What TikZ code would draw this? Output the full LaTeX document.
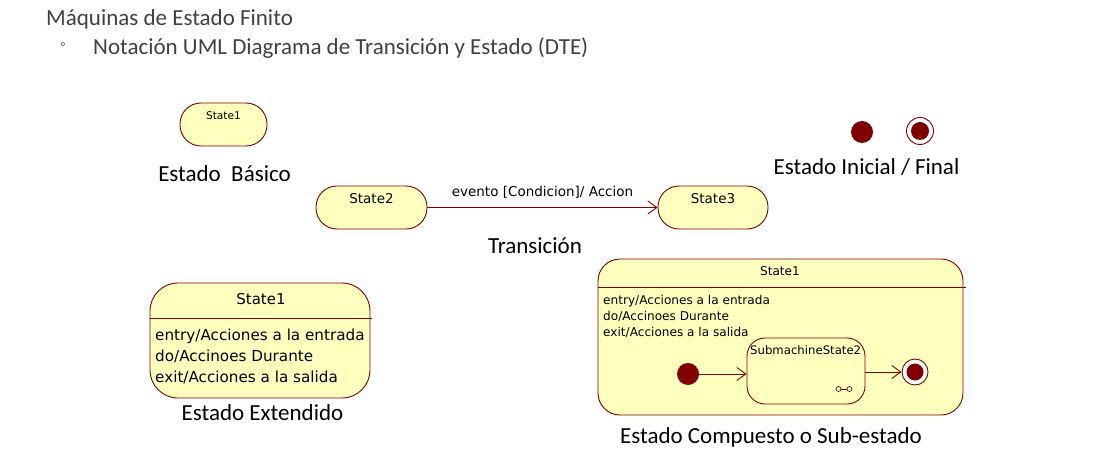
\documentclass[tikz,border=0pt]{standalone}
\usepackage{fontspec}
\setmainfont{Carlito}
\newfontfamily\umlfont{DejaVu Sans}
\usetikzlibrary{arrows.meta}
\definecolor{stfill}{RGB}{255,255,190}
\definecolor{stline}{RGB}{128,0,0}
\tikzset{
  stbox/.style={draw=stline, fill=stfill, line width=0.9pt, inner sep=0pt},
  sttext/.style={font=\umlfont\fontsize{10.6}{12}\selectfont, inner sep=0pt},
  heading/.style={font=\fontsize{23}{26}\selectfont, inner sep=0pt},
  trans/.style={draw=stline, line width=0.9pt, -{Straight Barb[length=9pt,width=13pt,line width=0.9pt]}},
  initst/.style={circle, fill=stline, inner sep=0pt, minimum size=22pt},
  finalout/.style={circle, draw=stline, fill=white, line width=0.9pt, inner sep=0pt, minimum size=27pt},
  finalin/.style={circle, fill=stline, inner sep=0pt, minimum size=18pt},
}
\begin{document}
\begin{tikzpicture}[x=1pt,y=-1pt]
\useasboundingbox (0,0) rectangle (1102,454);
% titles
\node[anchor=west, font=\fontsize{23}{26}\selectfont, text=black!75, inner sep=0pt] (title) at (46,19) {Máquinas de Estado Finito};
\node[anchor=center, font=\fontsize{15}{16}\selectfont, text=black!60, inner sep=0pt] (bullet) at (63,46) {◦};
\node[anchor=west, font=\fontsize{23}{26}\selectfont, text=black!75, inner sep=0pt] (sub) at (93,48) {Notación UML Diagrama de Transición y Estado (DTE)};

% basic state
\node[stbox, rounded corners=21pt, minimum width=87pt, minimum height=43pt] (s1) at (223.5,124.5) {};
\node[sttext, anchor=north] (s1t) at ([yshift=-9pt]s1.north) {State1};
\node[heading] (lbasic) at (224.5,174) {Estado\ \ Básico};

% transition
\node[stbox, rounded corners=21pt, minimum width=111pt, minimum height=43pt] (s2) at (371.5,207.5) {};
\node[sttext, font=\umlfont\fontsize{13.5}{14}\selectfont, anchor=north] (s2t) at ([yshift=-8pt]s2.north) {State2};
\node[stbox, rounded corners=21pt, minimum width=110pt, minimum height=43pt] (s3) at (713,207.5) {};
\node[sttext, font=\umlfont\fontsize{13.5}{14}\selectfont, anchor=north] (s3t) at ([yshift=-8pt]s3.north) {State3};
\draw[trans] (s2.east) -- node[above=9pt, sttext, font=\umlfont\fontsize{13.5}{14}\selectfont] (tlab) {evento [Condicion]/ Accion} (s3.west);
\node[heading] (ltrans) at (535,246) {Transición};

% initial / final
\node[initst] (ini) at (862,132) {};
\node[finalout] (fin) at (920,131) {};
\node[finalin] (fini) at (fin.center) {};
\node[heading] (linifin) at (866.5,167) {Estado Inicial / Final};

% extended state
\node[stbox, rounded corners=28pt, minimum width=220pt, minimum height=115pt] (ext) at (260,340.5) {};
\draw[stline, line width=0.9pt] (ext.west |- 0,318) -- ([xshift=2pt]ext.east |- 0,318);
\node[sttext, font=\umlfont\fontsize{15}{16}\selectfont] (extt) at (261,299) {State1};
\node[sttext, font=\umlfont\fontsize{15.2}{21}\selectfont, anchor=base west, align=left] (extb) at (155,382) {entry/Acciones a la entrada\\do/Accinoes Durante\\exit/Acciones a la salida};
\node[heading] (lext) at (262.5,413) {Estado Extendido};

% composite state
\node[stbox, rounded corners=22pt, minimum width=365pt, minimum height=156pt] (comp) at (780.5,337) {};
\draw[stline, line width=0.9pt] (comp.west |- 0,287) -- ([xshift=3pt]comp.east |- 0,287);
\node[sttext, font=\umlfont\fontsize{12.1}{13}\selectfont] (compt) at (780,271) {State1};
\node[sttext, font=\umlfont\fontsize{12.1}{16}\selectfont, anchor=base west, align=left] (compb) at (603,336) {entry/Acciones a la entrada\\do/Accinoes Durante\\exit/Acciones a la salida};
\node[stbox, rounded corners=18pt, minimum width=118pt, minimum height=66pt] (sub2) at (806,371) {};
\node[sttext, font=\umlfont\fontsize{11.7}{12}\selectfont, anchor=north west] (sub2t) at (750,345) {SubmachineState2};
\node[draw=stline, circle, line width=0.7pt, minimum size=5pt, inner sep=0pt] (ic1) at (838.5,389) {};
\node[draw=stline, circle, line width=0.7pt, minimum size=5pt, inner sep=0pt] (ic2) at (849.5,389) {};
\draw[stline, line width=0.7pt] (ic1) -- (ic2);
\node[initst] (cini) at (688,374) {};
\node[finalout, minimum size=26pt] (cfin) at (915,372) {};
\node[finalin, minimum size=17pt] (cfini) at (cfin.center) {};
\draw[trans] (cini.east) -- (sub2.west |- cini.east);
\draw[trans] (sub2.east |- cfin.west) -- (cfin.west);
\node[heading] (lcomp) at (771,437) {Estado Compuesto o Sub-estado};
\end{tikzpicture}
\end{document}
